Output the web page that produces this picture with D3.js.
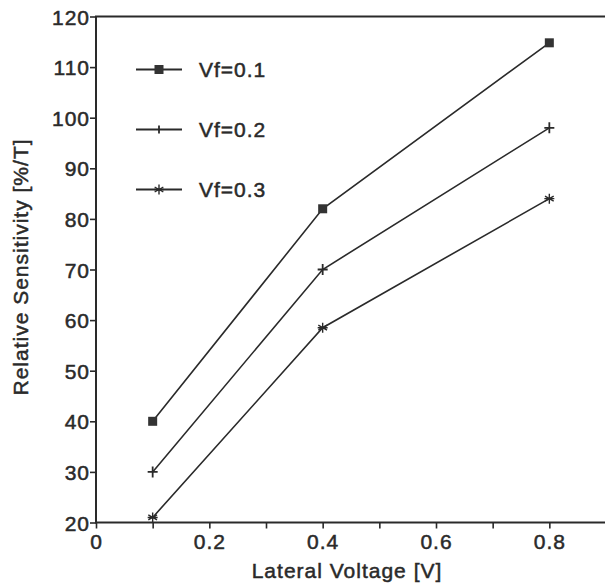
<!DOCTYPE html>
<html>
<head>
<meta charset="utf-8">
<script src="https://cdn.jsdelivr.net/npm/d3@7"></script>
<style>
  body { margin: 0; background: #fff; }
  text { font-family: "Liberation Sans", Arial, sans-serif; fill: #2a2a2a; letter-spacing: 1px;
         stroke: #2a2a2a; stroke-width: 0.5px; }
</style>
</head>
<body>
<div id="chart"></div>
<script>
// data
const lateralVoltage = [0.1, 0.4, 0.8];
const vf01 = [40, 82, 114.8];
const vf02 = [30, 70, 98];
const vf03 = [21, 58.5, 84];
const seriesNames = ['Vf=0.1', 'Vf=0.2', 'Vf=0.3'];
const markerTypes = ['square', 'plus', 'star'];
const xTickValues = [0, 0.1, 0.2, 0.3, 0.4, 0.5, 0.6, 0.7, 0.8];
const xTickLabels = ['0', '', '0.2', '', '0.4', '', '0.6', '', '0.8'];
const yTickValues = [20, 30, 40, 50, 60, 70, 80, 90, 100, 110, 120];

const W = 605, H = 586;
const margin = {top: 16.5, left: 96, bottom: 63.5};
const plotW = 514;
const plotH = H - margin.top - margin.bottom;
const ink = '#2a2a2a';

const svg = d3.select('#chart').append('svg')
    .attr('width', W)
    .attr('height', H);

const g = svg.append('g')
    .attr('transform', `translate(${margin.left},${margin.top})`);

const x = d3.scaleLinear().domain([0, 0.9]).range([0, 510]);
const y = d3.scaleLinear().domain([20, 120]).range([plotH, 0]);

// frame (right side runs off the page)
g.append('rect')
    .attr('x', 0).attr('y', 0)
    .attr('width', plotW).attr('height', plotH)
    .attr('fill', 'none')
    .attr('stroke', ink)
    .attr('stroke-width', 2);

// axes
const xAxis = g.append('g')
    .attr('transform', `translate(0,${plotH})`)
    .call(d3.axisBottom(x)
        .tickValues(xTickValues)
        .tickSize(6)
        .tickPadding(6)
        .tickFormat((d, i) => xTickLabels[i]));

const yAxis = g.append('g')
    .call(d3.axisLeft(y)
        .tickValues(yTickValues)
        .tickSize(6)
        .tickPadding(0)
        .tickFormat(d3.format('d')));

[xAxis, yAxis].forEach(a => {
    a.select('.domain').remove();
    a.selectAll('.tick line').attr('stroke', ink).attr('stroke-width', 1.6);
    a.selectAll('.tick text')
        .style('font-size', '21px')
        .attr('fill', ink);
});
yAxis.selectAll('.tick text').attr('dy', '0.36em');

// markers
function drawMarker(sel, type, cx, cy, small) {
    if (type === 'square') {
        sel.append('rect')
            .attr('x', cx - 4.5).attr('y', cy - 4.5)
            .attr('width', 9).attr('height', 9)
            .attr('fill', '#333');
    } else if (type === 'plus') {
        const h = small ? 4 : 5.5;
        sel.append('path')
            .attr('d', (small ? '' : `M${cx - 5},${cy}H${cx + 5}`) + `M${cx},${cy - h}V${cy + h}`)
            .attr('stroke', ink).attr('stroke-width', 1.8).attr('fill', 'none');
    } else {
        const r = 5;
        sel.append('path')
            .attr('d', `M${cx},${cy - r}V${cy + r}` +
                `M${cx - r * 0.87},${cy - r * 0.5}L${cx + r * 0.87},${cy + r * 0.5}` +
                `M${cx - r * 0.87},${cy + r * 0.5}L${cx + r * 0.87},${cy - r * 0.5}` +
                `M${cx - r},${cy}H${cx + r}`)
            .attr('stroke', ink).attr('stroke-width', 1.4).attr('fill', 'none');
    }
}

const series = [vf01, vf02, vf03];
const line = d3.line()
    .x((d, i) => x(lateralVoltage[i]))
    .y(d => y(d));

series.forEach((vals, k) => {
    g.append('path')
        .datum(vals)
        .attr('d', line)
        .attr('fill', 'none')
        .attr('stroke', ink)
        .attr('stroke-width', 1.6);
    vals.forEach((v, i) => drawMarker(g, markerTypes[k], x(lateralVoltage[i]), y(v)));
});

// legend
const legend = svg.append('g');
seriesNames.forEach((name, k) => {
    const ly = 69.5 + k * 60;
    legend.append('line')
        .attr('x1', 136).attr('x2', 182)
        .attr('y1', ly).attr('y2', ly)
        .attr('stroke', ink).attr('stroke-width', 2);
    drawMarker(legend, markerTypes[k], 159, ly, true);
    legend.append('text')
        .attr('x', 199)
        .attr('y', ly)
        .attr('dy', '0.36em')
        .style('font-size', '21px')
        .text(name);
});

// axis titles
svg.append('text')
    .attr('x', margin.left + x(0.45) - 4)
    .attr('y', 578)
    .attr('text-anchor', 'middle')
    .style('font-size', '21px')
    .text('Lateral Voltage [V]');

svg.append('text')
    .attr('transform', 'rotate(-90)')
    .attr('x', -267)
    .attr('y', 28)
    .attr('text-anchor', 'middle')
    .style('font-size', '21px')
    .text('Relative Sensitivity [%/T]');
</script>
</body>
</html>
